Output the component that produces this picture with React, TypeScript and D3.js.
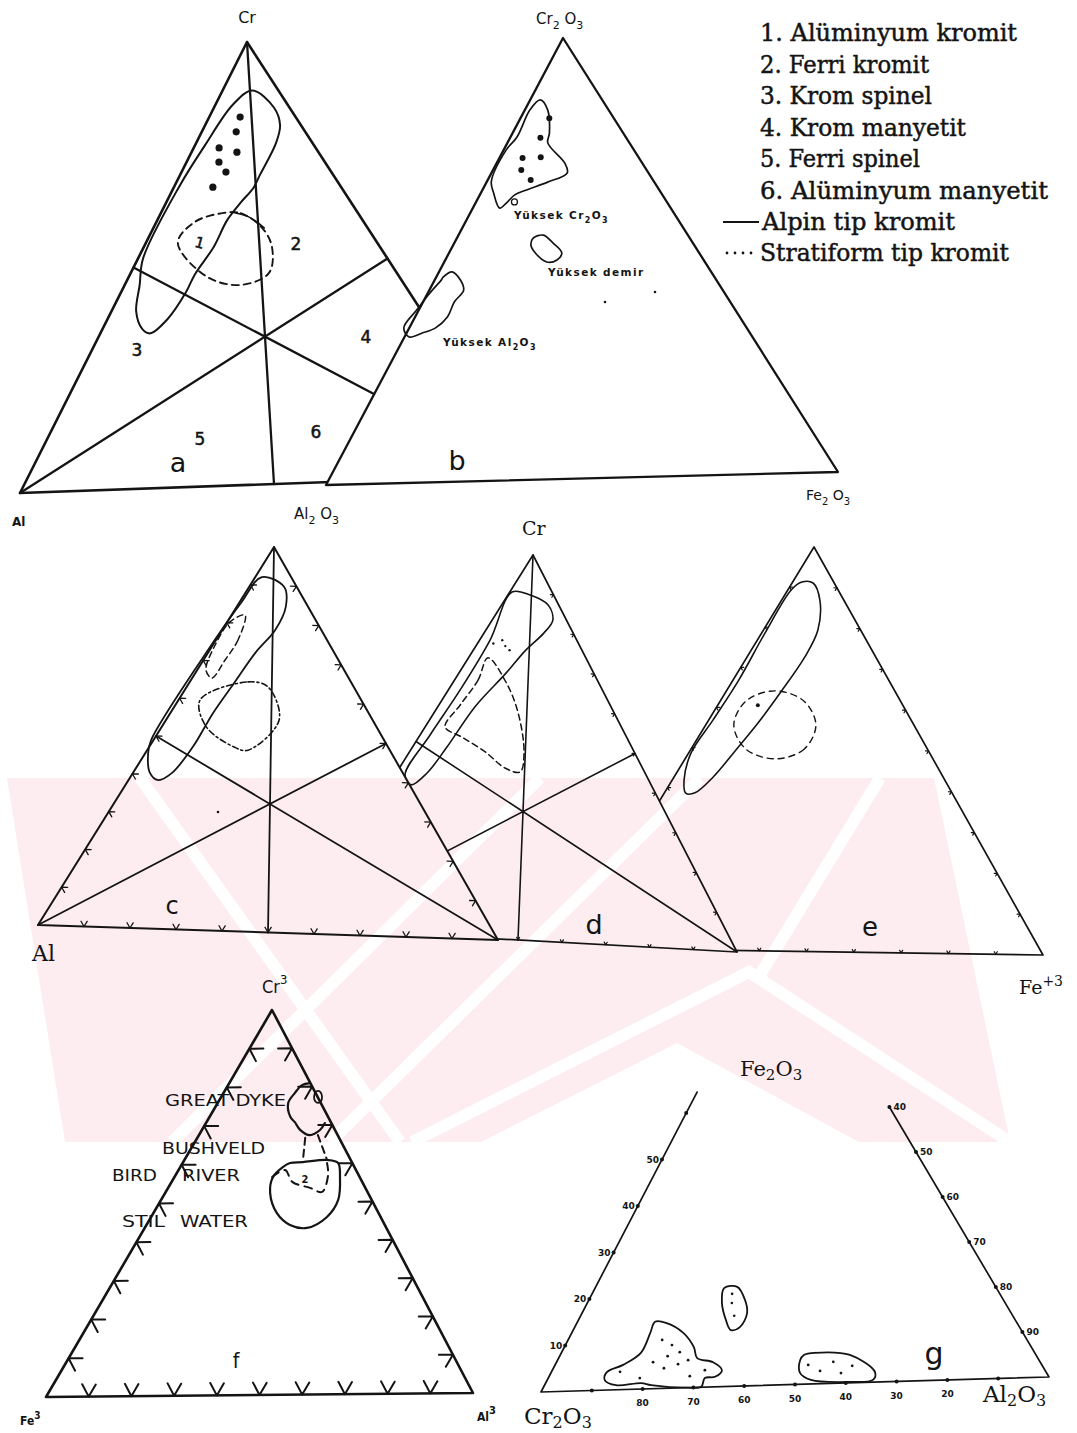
import React from "react";
import * as d3 from "d3";

type Pt = [number, number];
// ternary composition: [top-apex component %, right-vertex component %]
type Tern = [number, number];
interface Tri { L: Pt; T: Pt; R: Pt }

// ---------------- data ----------------
// a: Cr (top) – Al (left) – Fe (right)
const aAlpine: Tern[] = [[89,6],[85,12],[81,15],[77,16],[70,16],[67,16],[64,15],[60,14],[54,14],[48,13],[44,13],[38,12],[35,10],[36,8],[40,5],[46,3],[52,1],[68,1],[77,2],[86,3.5]];
const aStratiform: Tern[] = [[61.6,12.6],[61.4,16],[58,21.7],[53.5,25.7],[47.7,27.7],[45.2,23.3],[47.3,15.7],[55.2,6.4],[59.8,7.7]];
const aArc: Tern[] = [[61.7,14.3],[60.5,18],[57.9,22.2]];
const aSamples: Tern[] = [[83.1,6.2],[79.8,6.9],[76.3,5.1],[75.2,9.1],[73.1,6.5],[70.8,8.9],[67.5,7.8]];

// b: Cr2O3 (top) – Al2O3 (left) – Fe2O3 (right)
const bHighCr: Tern[] = [[86.1,2],[83.8,4.5],[78.5,7.3],[76.3,8],[71.6,13.5],[69.4,15],[67.4,12.1],[65.7,8.6],[64.7,6.9],[62.9,6.1],[61.8,5.3],[65.3,2.5],[67.8,0.9],[74.9,0.5],[77.8,1.3],[83.9,1]];
const bSamples: Tern[] = [[81.9,5.7],[77.5,6],[73,4.6],[73.1,8.1],[70.3,5.6],[68,8.5]];
const bSamplesOpen: Tern[] = [[63.1,7.6]];
const bHighFe: Tern[] = [[54.8,15.1],[55.4,16.8],[53.6,19.5],[51.3,22.3],[49.7,22.1],[49.3,20.3],[51.4,17.1],[53.2,15.4]];
const bHighAl: Tern[] = [[46.5,1.4],[47.6,2.6],[45.7,5.1],[43.4,6.8],[40.8,6.2],[37.4,6.4],[35,5.2],[33.9,3.1],[33.1,0.9],[35.2,-1.1],[39.2,-0.4],[42.9,0.4],[45.8,1.3]];

// c, d, e: Cr (top) – Al (left) – Fe+3 (right)
const cAlpine: Tern[] = [[92.1,1.4],[89.7,7.5],[84.5,10.5],[78.5,11.3],[72.4,10.1],[64.4,9.6],[56.4,9.1],[47.5,9.3],[40.5,8.3],[38.6,6.3],[40.4,3.6],[45.5,0.6],[48.9,-0.5],[71.9,-0.4],[85.2,0.4]];
const cStratiform: Tern[] = [[59.7,4.6],[64.8,12.4],[63.7,17.3],[55.2,24.1],[47.1,21.5],[47.8,18.1],[52.8,9.5]];
const cStratiformEdge: Tern[] = [[82.1,2.9],[75.6,4.7],[70.3,4.6],[65.5,4.2],[67.5,1.9],[74.1,0.5],[80.2,0.6]];
const dAlpine: Tern[] = [[90.1,0.5],[89.6,4.9],[87.3,10.2],[83.4,13.4],[79.9,13.2],[75.3,11.6],[69,10.4],[59.8,8.2],[49,7.6],[42,6.8],[38.7,4.9],[41.2,2.2],[51.9,2.2],[64,2.6],[77.4,2.3]];
const dStratiform: Tern[] = [[72.7,4.3],[66.8,5.2],[60.1,4.7],[54.2,4.4],[51.8,9.5],[48.3,16.7],[44.4,23.3],[43.6,27.2],[48.8,25.3],[59.1,18.4],[66.7,11.6]];
const dSamples: Tern[] = [[77.5,5],[76,6.5],[75,8],[76.5,3.5]];
const eAlpine: Tern[] = [[91.1,4.4],[86.9,8],[79.5,11.4],[72.8,12.1],[63.8,11.5],[56.3,10.7],[49.5,9.5],[42.8,8.2],[38.8,6.4],[38.7,4.5],[41.9,2.5],[48.6,0.5],[56.9,0.9],[66.9,1.2],[78.6,0.7],[89.3,0.7],[91.3,1.9]];
const eStratiform: Tern[] = [[56,23.1],[50,23.7],[47.5,18.9],[49.8,11.5],[55.7,5.9],[61.7,5.4],[64.3,10.2],[61.9,17.5]];
const eSamples: Tern[] = [[60.7,8.4]];

// f: Cr3 (top) – Fe3 (left) – Al3 (right)
const fBushveld: Tern[] = [[60.2,25.3],[60.4,28.2],[60.9,33.6],[60.1,36.6],[56.4,39],[50.5,41.7],[46.1,41.4],[43.3,38.2],[44.1,33.8],[47.2,29.1],[52.5,24.7],[56.6,23.2],[59.2,24.2]];
const fGreatDyke: Tern[] = [[80.9,19],[80.4,17.4],[78.4,16.8],[75.8,16.6],[72.2,19],[70.8,20.8],[68.8,23.1],[67.4,26.1],[68.7,27.8],[70.5,28]];
const fGreatDykeCore: Tern[] = [[77.3,22.8]];
const fLinks: Tern[][] = [[[66.7,25.4],[61,27.9]],[[67.4,28],[60.9,33.6]]];
const fStratiform: Tern[] = [[56.6,23],[58.4,25.1],[55.3,28.4],[53.7,33.4],[52.6,36.8],[57,35.9],[60.1,34]];

// g: Fe2O3 (top) – Cr2O3 (left) – Al2O3 (right)
const gFieldCr: Tern[] = [[14.6,15.5],[14.3,17.8],[12,22.3],[8.8,25.9],[6.4,27.7],[5.4,31.3],[3.6,33.9],[2.2,33.2],[2,31.3],[0.1,31.5],[0,28.8],[0.8,21.3],[1.3,19.1],[1,14.3],[2.2,11.5],[3.9,11.1],[5.4,13.6],[7.9,15.9],[12.2,15.7]];
const gFieldCrPts: Tern[] = [[3.9,13.7],[2.4,18.3],[10.6,18.8],[9.4,21.3],[7,21.6],[7.8,23.6],[5.2,24.5],[4.4,22.1],[6,26.1],[5.8,19.3],[3.7,30.5],[2.5,28.1]];
const gFieldAl: Tern[] = [[6.4,48.7],[6.8,50.7],[6.1,57.9],[2.2,64.7],[0.5,65.1],[0.2,60.7],[0.9,52.7],[2.5,49.8],[5.3,48.5]];
const gFieldAlPts: Tern[] = [[4.2,50.6],[2.8,53.6],[4.7,55.3],[2.2,58],[3.7,59.5]];
const gFieldFe: Tern[] = [[21.5,25.8],[21.7,28.3],[18.8,31.2],[15.9,33],[12.9,33],[12.3,31.5],[14.5,29.5],[18.3,26.9]];
const gFieldFePts: Tern[] = [[20.2,28],[18.2,28.9],[15.4,30.7]];
const gFeTicks = [10, 20, 30, 40, 50, 60];
const gFeLabels = ["10", "20", "30", "40", "50"];
const gCrTicks = [90, 80, 70, 60, 50, 40, 30, 20, 10];
const gCrLabels = ["80", "70", "60", "50", "40", "30", "20"];
const gAlTicks = [90, 80, 70, 60, 50, 40];
const gAlLabels = ["90", "80", "70", "60", "50", "40"];

const TENTHS = [0.1, 0.2, 0.3, 0.4, 0.5, 0.6, 0.7, 0.8, 0.9];

const legendItems = [
  "1. Alüminyum kromit",
  "2. Ferri kromit",
  "3. Krom spinel",
  "4. Krom manyetit",
  "5. Ferri spinel",
  "6. Alüminyum manyetit",
];
const legendTypes = ["Alpin tip kromit", "Stratiform tip kromit"];

// ---------------- layout ----------------
const TRI_A: Tri = { L: [20, 493], T: [247, 42], R: [528, 475] };
const TRI_B: Tri = { L: [326, 485], T: [563, 38], R: [838, 472] };
const TRI_C: Tri = { L: [38, 925], T: [274, 547], R: [498, 940] };
const TRI_D: Tri = { L: [299, 928], T: [533, 555], R: [737, 952] };
const TRI_E: Tri = { L: [570, 948], T: [814, 547], R: [1043, 955] };
const TRI_F: Tri = { L: [46, 1397], T: [272, 1010], R: [473, 1393] };
const TRI_G: Tri = { L: [541, 1392], T: [783, 927], R: [1049, 1377] };

const INK = "#141414";
const PINK = "#fdecf0";
const LEGEND_WIDTHS = [257, 169, 172, 206, 160, 288];

const project = (tri: Tri) => {
  // two linear scales carry the right-vertex and top-vertex shares onto the page
  const rx = d3.scaleLinear().domain([0, 100]).range([0, tri.R[0] - tri.L[0]]);
  const ry = d3.scaleLinear().domain([0, 100]).range([0, tri.R[1] - tri.L[1]]);
  const tx = d3.scaleLinear().domain([0, 100]).range([0, tri.T[0] - tri.L[0]]);
  const ty = d3.scaleLinear().domain([0, 100]).range([0, tri.T[1] - tri.L[1]]);
  return ([top, right]: Tern): Pt => [tri.L[0] + rx(right) + tx(top), tri.L[1] + ry(right) + ty(top)];
};

const straight = d3.line<Pt>();
const blob = d3.line<Pt>().curve(d3.curveCatmullRomClosed.alpha(0.5));
const curve = d3.line<Pt>().curve(d3.curveCatmullRom.alpha(0.5));

const unit = (a: Pt, b: Pt): Pt => {
  const dx = b[0] - a[0], dy = b[1] - a[1];
  const l = Math.hypot(dx, dy);
  return [dx / l, dy / l];
};

const lineAtY = (p: Pt, q: Pt, y: number) => p[0] + ((y - p[1]) * (q[0] - p[0])) / (q[1] - p[1]);

function edgeTicks(tri: Tri, edge: "left" | "right" | "base", fracs: number[], len: number): string {
  const P = project(tri);
  let d = "";
  fracs.forEach((f) => {
    let p: Pt, d1: Pt, d2: Pt;
    if (edge === "base") { p = P([0, f * 100]); d1 = unit(tri.R, tri.T); d2 = unit(tri.L, tri.T); }
    else if (edge === "left") { p = P([f * 100, 0]); d1 = unit(tri.L, tri.R); d2 = unit(tri.T, tri.R); }
    else { p = P([100 - f * 100, f * 100]); d1 = unit(tri.R, tri.L); d2 = unit(tri.T, tri.L); }
    d += `M${p[0] + d1[0] * len},${p[1] + d1[1] * len}L${p[0]},${p[1]}L${p[0] + d2[0] * len},${p[1] + d2[1] * len}`;
  });
  return d;
}

function frame(tri: Tri) {
  const P = project(tri);
  return straight([P([100, 0]), P([0, 0]), P([0, 100]), P([100, 0])]) + "Z";
}
function medians(tri: Tri) {
  const P = project(tri);
  return (
    straight([P([100, 0]), P([0, 50])]) +
    straight([P([0, 0]), P([50, 50])]) +
    straight([P([0, 100]), P([50, 0])])
  );
}

// faint background mark
const WM_BODY: Pt[] = [[7, 778], [934, 778], [1010, 1142], [859, 1142], [677, 1043], [481, 1142], [65, 1142]];
const WM_STRIPES: Pt[][] = [
  [[540, 778], [172, 1142]],
  [[700, 778], [330, 1142]],
  [[140, 778], [400, 1142]],
  [[412, 1142], [749, 972], [1010, 1142]],
  [[880, 778], [760, 975]],
];

export default function App() {
  const A = project(TRI_A), B = project(TRI_B), C = project(TRI_C), D = project(TRI_D), E = project(TRI_E), F = project(TRI_F), G = project(TRI_G);

  const clipA: Pt[] = [[0, 0], [lineAtY(TRI_B.L, TRI_B.T, 0), 0], [lineAtY(TRI_B.L, TRI_B.T, 560), 560], [0, 560]];
  const clipD: Pt[] = [[lineAtY(TRI_C.T, TRI_C.R, 520), 520], [1077, 520], [1077, 1000], [lineAtY(TRI_C.T, TRI_C.R, 1000), 1000]];
  const clipE: Pt[] = [[lineAtY(TRI_D.T, TRI_D.R, 520), 520], [1077, 520], [1077, 1000], [lineAtY(TRI_D.T, TRI_D.R, 1000), 1000]];

  const dots = (pts: Tern[], P: (p: Tern) => Pt, r: number, fill = INK) =>
    pts.map((p, i) => {
      const [x, y] = P(p);
      return <circle key={i} cx={x} cy={y} r={r} fill={fill} stroke={INK} strokeWidth={fill === INK ? 0 : 1.3} />;
    });

  const sans = "'DejaVu Sans', sans-serif";
  const serif = "'DejaVu Serif', serif";
  const serifCond = "'DejaVu Serif Condensed', 'DejaVu Serif', serif";
  const hand = "'DejaVu Sans Condensed', 'DejaVu Sans', sans-serif";

  // g: frame cut off below its apex
  const gLeftTop = G([64.5, 0]);
  const gRightTop = G([60, 40]);

  return (
    <svg width={1077} height={1433} viewBox="0 0 1077 1433" style={{ position: "absolute", left: 0, top: 0, background: "#fff" }} fontFamily={sans}>
      <defs>
        <clipPath id="clipA"><polygon points={clipA.map((p) => p.join(",")).join(" ")} /></clipPath>
        <clipPath id="clipD"><polygon points={clipD.map((p) => p.join(",")).join(" ")} /></clipPath>
        <clipPath id="clipE"><polygon points={clipE.map((p) => p.join(",")).join(" ")} /></clipPath>
        <clipPath id="clipWm"><rect x={0} y={778} width={1077} height={364} /></clipPath>
      </defs>
      <rect x={0} y={0} width={1077} height={1433} fill="#fff" />

      {/* background mark */}
      <g clipPath="url(#clipWm)">
        <path d={straight(WM_BODY) + "Z"} fill={PINK} />
        {WM_STRIPES.map((s, i) => (
          <path key={i} d={straight(s) || ""} fill="none" stroke="#fff" strokeWidth={12} />
        ))}
      </g>

      {/* ---- a ---- */}
      <g clipPath="url(#clipA)" fill="none" stroke={INK} strokeLinejoin="round" strokeLinecap="round">
        <path d={frame(TRI_A)} strokeWidth={2.6} />
        <path d={medians(TRI_A)} strokeWidth={2.3} />
        <path d={blob(aAlpine.map(A)) || ""} strokeWidth={2} />
        <path d={blob(aStratiform.map(A)) || ""} strokeWidth={1.9} strokeDasharray="7 5" />
        <path d={curve(aArc.map(A)) || ""} strokeWidth={1.6} />
      </g>
      {dots(aSamples, A, 3.6)}
      <g fill={INK} fontSize={17} textAnchor="middle" stroke={INK} strokeWidth={0.5}>
        <text x={296} y={250}>2</text>
        <text x={137} y={356}>3</text>
        <text x={366} y={343}>4</text>
        <text x={200} y={445}>5</text>
        <text x={316} y={438}>6</text>
        <text x={200} y={248} fontSize={15} transform="rotate(15 200 242)">1</text>
      </g>
      <text x={178} y={472} fontSize={27} textAnchor="middle" fill={INK}>a</text>
      <text x={457} y={470} fontSize={27} textAnchor="middle" fill={INK}>b</text>
      <text x={247} y={23} fontSize={16} textAnchor="middle" fill={INK}>Cr</text>
      <text x={12} y={526} fontSize={12} fontWeight="bold" fill={INK}>Al</text>
      <text x={294} y={519} fontSize={15} fill={INK}>Al<tspan dy={5} fontSize={11}>2</tspan><tspan dy={-5}> O</tspan><tspan dy={5} fontSize={11}>3</tspan></text>

      {/* ---- b ---- */}
      <g fill="none" stroke={INK} strokeLinejoin="round" strokeLinecap="round">
        <path d={frame(TRI_B)} strokeWidth={2.3} />
        <path d={blob(bHighCr.map(B)) || ""} strokeWidth={1.7} />
        <path d={blob(bHighFe.map(B)) || ""} strokeWidth={1.7} />
        <path d={blob(bHighAl.map(B)) || ""} strokeWidth={1.7} />
      </g>
      {dots(bSamples, B, 3)}
      {dots(bSamplesOpen, B, 3, "#fff")}
      <circle cx={655} cy={292} r={1.3} fill={INK} />
      <circle cx={605} cy={302} r={1.3} fill={INK} />
      <text x={536} y={24} fontSize={15} fill={INK}>Cr<tspan dy={5} fontSize={11}>2</tspan><tspan dy={-5}> O</tspan><tspan dy={5} fontSize={11}>3</tspan></text>
      <text x={806} y={500} fontSize={14} fill={INK}>Fe<tspan dy={5} fontSize={10}>2</tspan><tspan dy={-5}> O</tspan><tspan dy={5} fontSize={10}>3</tspan></text>
      <g fill={INK} fontSize={10.5} fontWeight="bold" letterSpacing={1.4}>
        <text x={514} y={219}>Yüksek Cr<tspan dy={4} fontSize={8}>2</tspan><tspan dy={-4}>O</tspan><tspan dy={4} fontSize={8}>3</tspan></text>
        <text x={548} y={276}>Yüksek demir</text>
        <text x={443} y={346}>Yüksek Al<tspan dy={4} fontSize={8}>2</tspan><tspan dy={-4}>O</tspan><tspan dy={4} fontSize={8}>3</tspan></text>
      </g>

      {/* ---- legend ---- */}
      <g fill={INK} fontFamily={serifCond} fontSize={25} stroke={INK} strokeWidth={0.45}>
        {legendItems.map((t, i) => (
          <text key={t} x={760} y={41 + i * 31.6} textLength={LEGEND_WIDTHS[i]} lengthAdjust="spacingAndGlyphs">{t}</text>
        ))}
        <line x1={723} x2={759} y1={222} y2={222} stroke={INK} strokeWidth={2.2} />
        <text x={762} y={230} textLength={193} lengthAdjust="spacingAndGlyphs">{legendTypes[0]}</text>
        {[727, 735, 743, 751].map((x) => <circle key={x} cx={x} cy={253} r={1.4} fill={INK} strokeWidth={0} />)}
        <text x={760} y={261} textLength={249} lengthAdjust="spacingAndGlyphs">{legendTypes[1]}</text>
      </g>

      {/* ---- c ---- */}
      <g fill="none" stroke={INK} strokeLinejoin="round" strokeLinecap="round">
        <path d={frame(TRI_C)} strokeWidth={2} />
        <path d={medians(TRI_C)} strokeWidth={1.8} />
        <path d={edgeTicks(TRI_C, "base", TENTHS, 6)} strokeWidth={1.3} />
        <path d={edgeTicks(TRI_C, "left", TENTHS, 6)} strokeWidth={1.3} />
        <path d={edgeTicks(TRI_C, "right", TENTHS, 6)} strokeWidth={1.3} />
        <path d={blob(cAlpine.map(C)) || ""} strokeWidth={1.8} />
        <path d={blob(cStratiform.map(C)) || ""} strokeWidth={1.6} strokeDasharray="6 3 2 3" />
        <path d={blob(cStratiformEdge.map(C)) || ""} strokeWidth={1.5} strokeDasharray="6 4" />
      </g>
      <circle cx={218} cy={812} r={1.3} fill={INK} />

      {/* ---- d ---- */}
      <g clipPath="url(#clipD)" fill="none" stroke={INK} strokeLinejoin="round" strokeLinecap="round">
        <path d={frame(TRI_D)} strokeWidth={1.7} />
        <path d={medians(TRI_D)} strokeWidth={1.6} />
        <path d={edgeTicks(TRI_D, "base", TENTHS, 3)} strokeWidth={1.2} />
        <path d={edgeTicks(TRI_D, "right", TENTHS, 3)} strokeWidth={1.2} />
        <path d={blob(dAlpine.map(D)) || ""} strokeWidth={1.6} />
        <path d={blob(dStratiform.map(D)) || ""} strokeWidth={1.5} strokeDasharray="6 4" />
      </g>
      {dots(dSamples, D, 1.2)}

      {/* ---- e ---- */}
      <g clipPath="url(#clipE)" fill="none" stroke={INK} strokeLinejoin="round" strokeLinecap="round">
        <path d={frame(TRI_E)} strokeWidth={1.7} />
        <path d={edgeTicks(TRI_E, "base", TENTHS, 3)} strokeWidth={1.2} />
        <path d={edgeTicks(TRI_E, "left", TENTHS, 3)} strokeWidth={1.2} />
        <path d={edgeTicks(TRI_E, "right", TENTHS, 3)} strokeWidth={1.2} />
        <path d={blob(eAlpine.map(E)) || ""} strokeWidth={1.6} />
        <path d={blob(eStratiform.map(E)) || ""} strokeWidth={1.4} strokeDasharray="6 5" />
      </g>
      {dots(eSamples, E, 2)}

      <g fill={INK} fontFamily={serif}>
        <text x={32} y={961} fontSize={22}>Al</text>
        <text x={522} y={535} fontSize={19}>Cr</text>
        <text x={1019} y={994} fontSize={19}>Fe<tspan dy={-8} fontSize={14}>+3</tspan></text>
      </g>
      <g fill={INK} fontFamily={sans}>
        <text x={172} y={914} fontSize={24} textAnchor="middle">c</text>
        <text x={594} y={934} fontSize={27} textAnchor="middle">d</text>
        <text x={870} y={936} fontSize={26} textAnchor="middle">e</text>
      </g>

      {/* ---- f ---- */}
      <g fill="none" stroke={INK} strokeLinejoin="round" strokeLinecap="round">
        <path d={frame(TRI_F)} strokeWidth={2.6} />
        <path d={edgeTicks(TRI_F, "base", TENTHS, 14)} strokeWidth={2} />
        <path d={edgeTicks(TRI_F, "left", TENTHS, 14)} strokeWidth={2} />
        <path d={edgeTicks(TRI_F, "right", TENTHS, 14)} strokeWidth={2} />
        <path d={blob(fBushveld.map(F)) || ""} strokeWidth={2.2} />
        <path d={curve(fGreatDyke.map(F)) || ""} strokeWidth={2.2} />
        <path d={curve(fStratiform.map(F)) || ""} strokeWidth={2} strokeDasharray="8 6" />
        {fLinks.map((l, i) => <path key={i} d={straight(l.map(F)) || ""} strokeWidth={2} strokeDasharray="7 5" />)}
        {fGreatDykeCore.map((p, i) => { const [x, y] = F(p); return <ellipse key={i} cx={x} cy={y} rx={4} ry={6} strokeWidth={1.8} />; })}
      </g>
      <g fill={INK} fontFamily={hand} fontSize={16}>
        <text x={165} y={1106} textLength={121} lengthAdjust="spacingAndGlyphs">GREAT DYKE</text>
        <text x={162} y={1154} textLength={103} lengthAdjust="spacingAndGlyphs">BUSHVELD</text>
        <text x={112} y={1181} textLength={45} lengthAdjust="spacingAndGlyphs">BIRD</text>
        <text x={182} y={1181} textLength={58} lengthAdjust="spacingAndGlyphs">RIVER</text>
        <text x={122} y={1227} textLength={43} lengthAdjust="spacingAndGlyphs">STIL</text>
        <text x={180} y={1227} textLength={68} lengthAdjust="spacingAndGlyphs">WATER</text>
        <text x={305} y={1183} fontSize={11} fontWeight="bold" textAnchor="middle">2</text>
        <text x={262} y={993} fontSize={18}>Cr<tspan dy={-9} fontSize={13}>3</tspan></text>
        <text x={20} y={1425} fontSize={12} fontWeight="bold">Fe<tspan dy={-6} fontSize={10}>3</tspan></text>
        <text x={477} y={1421} fontSize={12} fontWeight="bold">Al<tspan dy={-7} fontSize={11}>3</tspan></text>
        <text x={236} y={1368} fontSize={21} textAnchor="middle">f</text>
      </g>

      {/* ---- g ---- */}
      <g fill="none" stroke={INK} strokeLinejoin="round" strokeLinecap="round" strokeWidth={1.7}>
        <path d={straight([gLeftTop, G([0, 0]), G([0, 100]), gRightTop]) || ""} />
        <path d={blob(gFieldCr.map(G)) || ""} strokeWidth={1.8} />
        <path d={blob(gFieldAl.map(G)) || ""} strokeWidth={1.8} />
        <path d={blob(gFieldFe.map(G)) || ""} strokeWidth={1.8} />
      </g>
      {dots(gFieldCrPts, G, 1.4)}
      {dots(gFieldAlPts, G, 1.4)}
      {dots(gFieldFePts, G, 1.3)}
      {gFeTicks.map((v) => { const [x, y] = G([v, 0]); return <circle key={"fe" + v} cx={x} cy={y} r={2} fill={INK} />; })}
      {gCrTicks.map((v) => { const [x, y] = G([0, 100 - v]); return <circle key={"cr" + v} cx={x} cy={y} r={2} fill={INK} />; })}
      {gAlTicks.map((v) => { const [x, y] = G([100 - v, v]); return <circle key={"al" + v} cx={x} cy={y} r={2} fill={INK} />; })}
      <g fill={INK} fontSize={9} fontWeight="bold">
        {gFeLabels.map((s, i) => { const [x, y] = G([gFeTicks[i], 0]); return <text key={s} x={x - 3} y={y + 3} textAnchor="end">{s}</text>; })}
        {gCrLabels.map((s) => { const [x, y] = G([0, 100 - +s]); return <text key={s} x={x} y={y + 17} textAnchor="middle">{s}</text>; })}
        {gAlLabels.map((s) => { const [x, y] = G([100 - +s, +s]); return <text key={s} x={x + 4} y={y + 3}>{s}</text>; })}
      </g>
      <g fill={INK} fontFamily={serif}>
        <text x={740} y={1076} fontSize={21}>Fe<tspan dy={4} fontSize={15}>2</tspan><tspan dy={-4}>O</tspan><tspan dy={4} fontSize={15}>3</tspan></text>
        <text x={524} y={1424} fontSize={23}>Cr<tspan dy={4} fontSize={16}>2</tspan><tspan dy={-4}>O</tspan><tspan dy={4} fontSize={16}>3</tspan></text>
        <text x={983} y={1402} fontSize={23}>Al<tspan dy={4} fontSize={16}>2</tspan><tspan dy={-4}>O</tspan><tspan dy={4} fontSize={16}>3</tspan></text>
      </g>
      <text x={934} y={1364} fontSize={30} textAnchor="middle" fill={INK}>g</text>
    </svg>
  );
}
